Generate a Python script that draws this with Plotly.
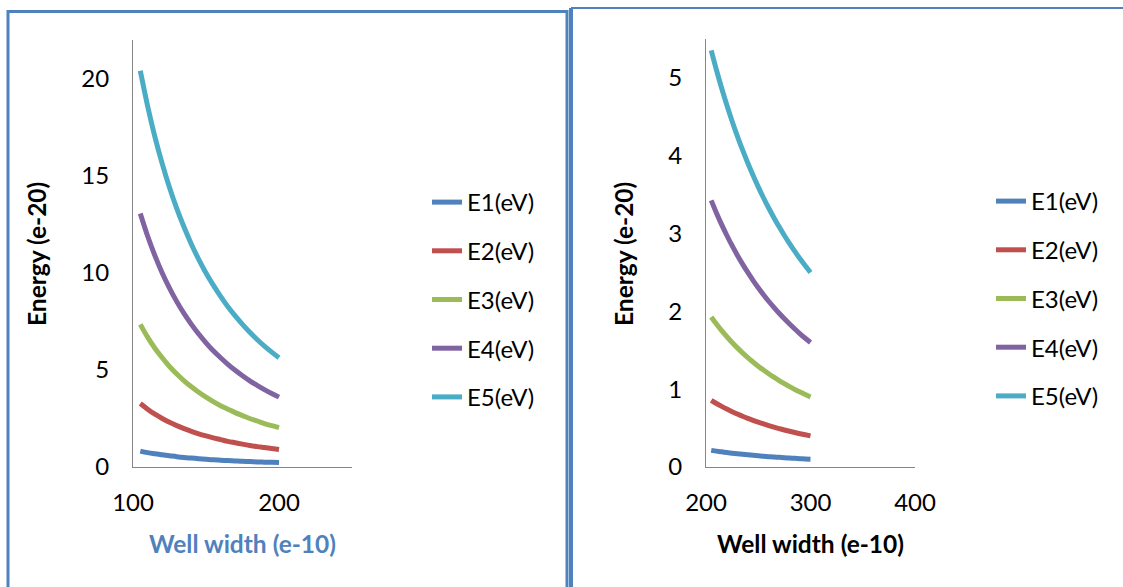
import plotly.graph_objects as go

W, H = 1123, 587

names = ["E1(eV)", "E2(eV)", "E3(eV)", "E4(eV)", "E5(eV)"]
colors = ["#4F81BD", "#C0504D", "#9BBB59", "#8064A2", "#4BACC6"]

# Left chart: well width 105..200
width_left = [105, 110, 115, 120, 125, 130, 135, 140, 145, 150,
              155, 160, 165, 170, 175, 180, 185, 190, 195, 200]
E1_left = [0.82, 0.74, 0.68, 0.63, 0.58, 0.53, 0.49, 0.46, 0.43, 0.40,
           0.37, 0.35, 0.33, 0.31, 0.29, 0.28, 0.26, 0.25, 0.24, 0.23]
E2_left = [3.27, 2.98, 2.72, 2.50, 2.30, 2.13, 1.98, 1.84, 1.71, 1.60,
           1.50, 1.41, 1.32, 1.25, 1.18, 1.11, 1.05, 1.00, 0.95, 0.90]
E3_left = [7.35, 6.69, 6.12, 5.63, 5.18, 4.79, 4.44, 4.13, 3.85, 3.60,
           3.37, 3.16, 2.98, 2.80, 2.65, 2.50, 2.37, 2.24, 2.13, 2.03]
E4_left = [13.06, 11.90, 10.89, 10.00, 9.22, 8.52, 7.90, 7.35, 6.85, 6.40,
           5.99, 5.63, 5.29, 4.98, 4.70, 4.44, 4.21, 3.99, 3.79, 3.60]
E5_left = [20.41, 18.60, 17.01, 15.63, 14.40, 13.31, 12.35, 11.48, 10.70, 10.00,
           9.37, 8.79, 8.26, 7.79, 7.35, 6.94, 6.57, 6.23, 5.92, 5.63]

# Right chart: well width 205..300
width_right = [205, 210, 215, 220, 225, 230, 235, 240, 245, 250,
               255, 260, 265, 270, 275, 280, 285, 290, 295, 300]
E1_right = [0.214, 0.204, 0.195, 0.186, 0.178, 0.170, 0.163, 0.156, 0.150, 0.144,
            0.138, 0.133, 0.128, 0.124, 0.119, 0.115, 0.111, 0.107, 0.103, 0.100]
E2_right = [0.857, 0.816, 0.779, 0.744, 0.711, 0.680, 0.652, 0.625, 0.600, 0.576,
            0.554, 0.533, 0.513, 0.494, 0.476, 0.459, 0.443, 0.428, 0.414, 0.400]
E3_right = [1.928, 1.837, 1.752, 1.674, 1.600, 1.531, 1.467, 1.406, 1.349, 1.296,
            1.246, 1.198, 1.154, 1.111, 1.071, 1.033, 0.997, 0.963, 0.931, 0.900]
E4_right = [3.427, 3.265, 3.115, 2.975, 2.844, 2.722, 2.607, 2.500, 2.399, 2.304,
            2.214, 2.130, 2.051, 1.975, 1.904, 1.837, 1.773, 1.712, 1.654, 1.600]
E5_right = [5.354, 5.102, 4.868, 4.649, 4.444, 4.253, 4.074, 3.906, 3.749, 3.600,
            3.460, 3.328, 3.204, 3.086, 2.975, 2.870, 2.770, 2.675, 2.585, 2.500]

left_series = [E1_left, E2_left, E3_left, E4_left, E5_left]
right_series = [E1_right, E2_right, E3_right, E4_right, E5_right]

left_xticks = [100, 200]
left_yticks = [0, 5, 10, 15, 20]
right_xticks = [200, 300, 400]
right_yticks = [0, 1, 2, 3, 4, 5]

FONT = "Lato"

def px(x):
    return x / W

def py(y):
    return 1 - y / H

fig = go.Figure()
for i, (nm, col) in enumerate(zip(names, colors)):
    fig.add_trace(go.Scatter(x=width_left, y=left_series[i], mode="lines", name=nm,
                             line=dict(color=col, width=5, shape="spline"), xaxis="x", yaxis="y",
                             legend="legend", legendgroup="L%d" % i))
for i, (nm, col) in enumerate(zip(names, colors)):
    fig.add_trace(go.Scatter(x=width_right, y=right_series[i], mode="lines", name=nm,
                             line=dict(color=col, width=5, shape="spline"), xaxis="x2", yaxis="y2",
                             legend="legend2", legendgroup="R%d" % i))

axis_common = dict(showgrid=False, zeroline=False, showline=True, linecolor="#868686",
                   linewidth=1, ticks="", tickfont=dict(family=FONT, size=24, color="black"),
                   fixedrange=True, automargin=False)

legend_common = dict(font=dict(family=FONT, size=24, color="black"), traceorder="grouped",
                     tracegroupgap=14.5, bgcolor="rgba(0,0,0,0)", borderwidth=0,
                     xanchor="left", yanchor="top", itemwidth=30)

fig.update_layout(
    width=W, height=H,
    margin=dict(l=0, r=0, t=0, b=0, autoexpand=False),
    paper_bgcolor="white", plot_bgcolor="white",
    xaxis=dict(domain=[px(133), px(352)], range=[100, 250], tickvals=left_xticks,
               anchor="y", ticklabelstandoff=14, **axis_common),
    yaxis=dict(domain=[py(467), py(40)], range=[0, 22], tickvals=left_yticks,
               anchor="x", ticklabelstandoff=18, **axis_common),
    xaxis2=dict(domain=[px(706), px(915)], range=[200, 400], tickvals=right_xticks,
                anchor="y2", ticklabelstandoff=14, **axis_common),
    yaxis2=dict(domain=[py(467), py(39)], range=[0, 5.5], tickvals=right_yticks,
                anchor="x2", ticklabelstandoff=18, **axis_common),
    legend=dict(x=px(427), y=py(180), **legend_common),
    legend2=dict(x=px(991), y=py(179), **legend_common),
    showlegend=True,
)

TS = 24.5
title_font = dict(family=FONT, size=TS, color="black", weight="bold")
ann_common = dict(xref="paper", yref="paper", showarrow=False, xanchor="center", yanchor="middle")
fig.add_annotation(x=px(36), y=py(254), text="Energy (e-20)", textangle=-90,
                   font=title_font, **ann_common)
fig.add_annotation(x=px(623), y=py(254), text="Energy (e-20)", textangle=-90,
                   font=title_font, **ann_common)
fig.add_annotation(x=px(242), y=py(543), text="Well width (e-10)",
                   font=dict(family=FONT, size=TS, color="#4F81BD", weight="bold"), **ann_common)
fig.add_annotation(x=px(810), y=py(543), text="Well width (e-10)",
                   font=title_font, **ann_common)

border = "#4F81BD"
fig.add_shape(type="rect", xref="paper", yref="paper", x0=px(8), x1=px(567), y0=py(600), y1=py(11.5),
              line=dict(color=border, width=3), layer="above")
fig.add_shape(type="line", xref="paper", yref="paper", x0=px(571), x1=px(1130), y0=py(8), y1=py(8),
              line=dict(color=border, width=2), layer="above")
fig.add_shape(type="line", xref="paper", yref="paper", x0=px(571), x1=px(571), y0=py(8), y1=py(600),
              line=dict(color=border, width=4), layer="above")

fig.write_html("out.html")
